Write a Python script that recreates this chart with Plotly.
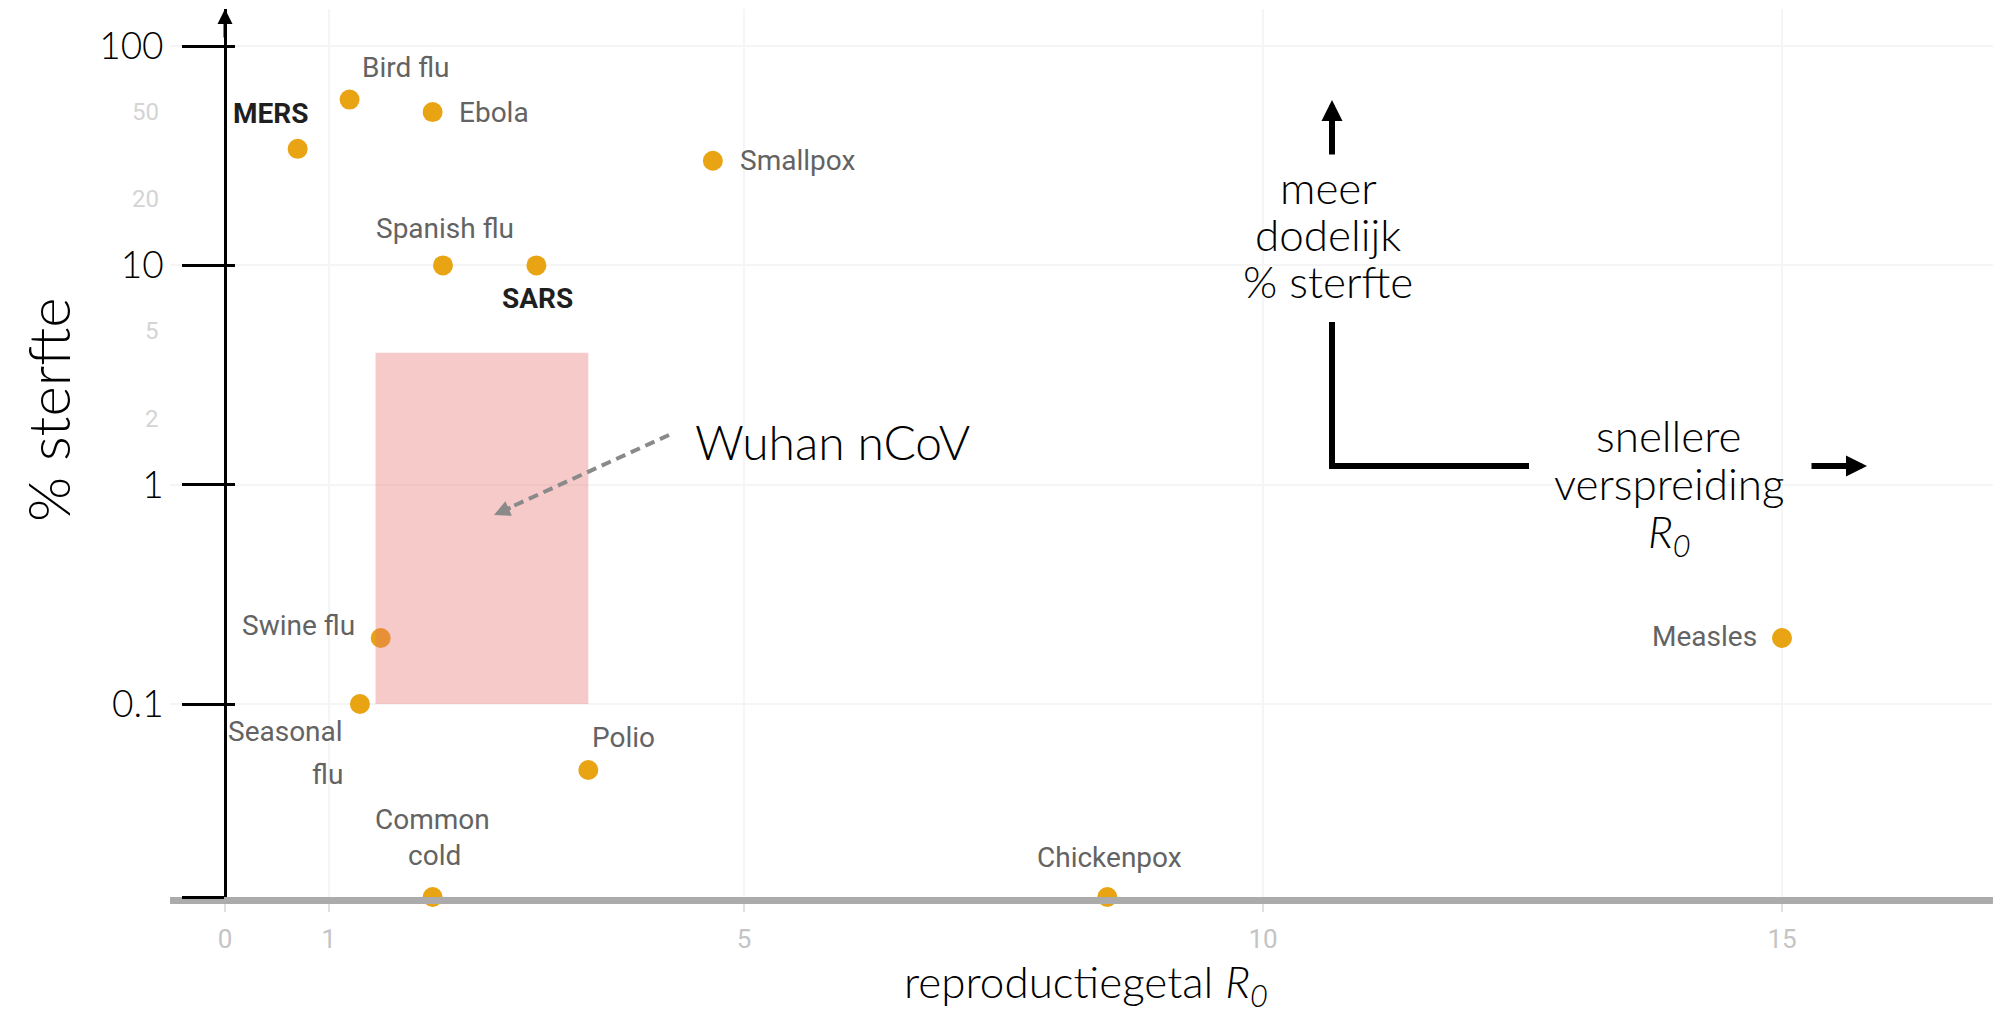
import math
import plotly.graph_objects as go

# ---------------- data ----------------
diseases = ["MERS", "Bird flu", "Ebola", "Smallpox", "Spanish flu", "SARS",
            "Swine flu", "Seasonal flu", "Polio", "Common cold", "Chickenpox", "Measles"]
r0 = [0.7, 1.2, 2.0, 4.7, 2.1, 3.0, 1.5, 1.3, 3.5, 2.0, 8.5, 15.0]
fatality = [34, 57, 50, 30, 10, 10, 0.2, 0.1, 0.05, 0, 0, 0.2]   # % sterfte (0 = ~nul)
bold_labels = ["MERS", "SARS"]

wuhan_r0 = [1.45, 3.5]
wuhan_fatality = [0.1, 4]

y_tick_vals = [100, 10, 1, 0.1]
y_tick_text = ["100", "10", "1", "0.1"]
y_faint_vals = [50, 20, 5, 2]
x_tick_vals = [0, 1, 5, 10, 15]

# ---------------- layout geometry ----------------
# the page body has an 8px margin; geometry below is in screen pixels
OFF = 8
W, H = 2001 - OFF, 1013 - OFF
ML, MR, MT = 170 - OFF, 0, 9 - OFF
PLOT_BOTTOM = 897 - OFF
MB = H - PLOT_BOTTOM
PW, PH = W - ML - MR, H - MT - MB
X_RANGE = [-0.53, 17.11]
Y_RANGE = [-1.880, 2.169]          # log10
FLOOR = 10 ** Y_RANGE[0]


def px(xs):
    return (xs - OFF - ML) / PW


def py(ys):
    return (PLOT_BOTTOM - (ys - OFF)) / PH


FONT_OVER = "Lato"
FONT_WAPO = "Roboto"
DOT = "#E8A413"

y_plot = [max(v, FLOOR) for v in fatality]

fig = go.Figure()
fig.add_trace(go.Scatter(
    x=r0, y=y_plot, mode="markers",
    marker=dict(size=20, color=DOT, line=dict(width=0)),
    cliponaxis=False, hoverinfo="text", text=diseases, showlegend=False))
# helper trace for the right-hand tick nubs
fig.add_trace(go.Scatter(x=[0], y=[1], yaxis="y2", mode="markers",
                         marker=dict(opacity=0), hoverinfo="skip", showlegend=False))

# ---------------- disease labels ----------------
label_lines = {
    "MERS": [("MERS", "center", -27, 35)],
    "Bird flu": [("Bird flu", "left", 10, 32)],
    "Ebola": [("Ebola", "left", 24, 0)],
    "Smallpox": [("Smallpox", "left", 25, 0)],
    "Spanish flu": [("Spanish flu", "center", 2, 37)],
    "SARS": [("SARS", "center", 1, -33)],
    "Swine flu": [("Swine flu", "right", -24, 12)],
    "Seasonal flu": [("Seasonal", "right", -15, -27), ("flu", "right", -15, -70)],
    "Polio": [("Polio", "center", 35, 33)],
    "Common cold": [("Common", "center", 0, 78), ("cold", "center", 2, 42)],
    "Chickenpox": [("Chickenpox", "center", 2, 40)],
    "Measles": [("Measles", "right", -23, 1)],
}
annotations = []
for name, xv, yv in zip(diseases, r0, y_plot):
    is_bold = name in bold_labels
    for txt, anchor, xs, ys in label_lines[name]:
        annotations.append(dict(
            x=xv, y=math.log10(yv), xref="x", yref="y", text=txt, showarrow=False,
            xanchor=anchor, yanchor="middle", xshift=xs, yshift=ys,
            font=dict(family=FONT_WAPO, size=28,
                      color="#1f1f1f" if is_bold else "#636363",
                      weight="bold" if is_bold else "normal")))

# faint original y labels
for v in y_faint_vals:
    annotations.append(dict(x=0, y=math.log10(v), xref="x", yref="y", text=str(v),
                            showarrow=False, xanchor="right", xshift=-64,
                            font=dict(family=FONT_WAPO, size=24, color="#d4d4d4")))

# y-axis arrow head
annotations.append(dict(x=0, y=1, xref="x", yref="paper", text="", showarrow=True,
                        ax=0, ay=30, arrowhead=2, arrowsize=1.0, arrowwidth=3,
                        arrowcolor="black"))

# Wuhan label + arrow head
annotations.append(dict(x=px(693), y=py(441), xref="paper", yref="paper",
                        text="Wuhan nCoV", showarrow=False, xanchor="left",
                        yanchor="middle",
                        font=dict(family=FONT_OVER, size=48, color="black", weight=300)))
annotations.append(dict(x=px(494), y=py(515), xref="paper", yref="paper", text="",
                        showarrow=True, ax=18, ay=-8, arrowhead=2, arrowsize=0.8,
                        arrowwidth=4, arrowcolor="#8a8a8a"))

# direction legend
for txt, yy in [("meer", 187), ("dodelijk", 234), ("% sterfte", 281)]:
    annotations.append(dict(x=px(1328), y=py(yy), xref="paper", yref="paper", text=txt,
                            showarrow=False, xanchor="center", yanchor="middle",
                            font=dict(family=FONT_OVER, size=44, color="black", weight=300)))
for txt, yy in [("snellere", 435), ("verspreiding", 483), ("<i>R<sub>0</sub></i>", 534)]:
    annotations.append(dict(x=px(1669), y=py(yy), xref="paper", yref="paper", text=txt,
                            showarrow=False, xanchor="center", yanchor="middle",
                            font=dict(family=FONT_OVER, size=44, color="black", weight=300)))
annotations.append(dict(x=px(1332), y=py(100), xref="paper", yref="paper", text="",
                        showarrow=True, ax=0, ay=56, arrowhead=2, arrowsize=0.7,
                        arrowwidth=6, arrowcolor="black"))
annotations.append(dict(x=px(1867), y=py(466), xref="paper", yref="paper", text="",
                        showarrow=True, ax=-57, ay=0, arrowhead=2, arrowsize=0.7,
                        arrowwidth=6, arrowcolor="black"))

# axis titles
annotations.append(dict(x=px(47), y=py(410), xref="paper", yref="paper", text="% sterfte",
                        showarrow=False, textangle=-90, xanchor="center", yanchor="middle",
                        font=dict(family=FONT_OVER, size=58, color="black", weight=300)))
annotations.append(dict(x=px(1086), y=py(984), xref="paper", yref="paper",
                        text="reproductiegetal <i>R<sub>0</sub></i>",
                        showarrow=False, xanchor="center", yanchor="middle",
                        font=dict(family=FONT_OVER, size=44, color="black", weight=300)))

shapes = [
    dict(type="rect", xref="x", yref="y", x0=wuhan_r0[0], x1=wuhan_r0[1],
         y0=wuhan_fatality[0], y1=wuhan_fatality[1],
         fillcolor="rgba(232,110,110,0.37)", line=dict(width=0), layer="above"),
    dict(type="line", xref="paper", yref="paper", x0=px(669), y0=py(435),
         x1=px(500), y1=py(512), line=dict(color="#8a8a8a", width=4, dash="10px,6px")),
    dict(type="path", xref="paper", yref="paper",
         path=f"M {px(1332)},{py(322)} L {px(1332)},{py(466)} L {px(1529)},{py(466)}",
         line=dict(color="black", width=6)),
]

ax_common = dict(type="log", range=Y_RANGE, anchor="free", position=(225 - OFF - ML) / PW,
                 tickvals=y_tick_vals + [FLOOR], zeroline=False)

fig.update_layout(
    width=W, height=H,
    margin=dict(l=ML, r=MR, t=MT, b=MB),
    paper_bgcolor="white", plot_bgcolor="white",
    showlegend=False,
    xaxis=dict(range=X_RANGE, domain=[0, 1], showline=True, linecolor="#ababab",
               linewidth=7, ticks="outside", ticklen=8, tickwidth=2, tickcolor="#e0e0e0",
               tickvals=x_tick_vals, ticktext=[str(v) for v in x_tick_vals],
               tickfont=dict(family=FONT_WAPO, size=26, color="#c4c4c4"),
               ticklabelstandoff=5,
               showgrid=True, gridcolor="#f5f5f5", gridwidth=2, zeroline=False),
    yaxis=dict(**ax_common, ticktext=y_tick_text + [""],
               showline=True, linecolor="black", linewidth=3,
               ticks="outside", ticklen=42, tickwidth=3, tickcolor="black",
               tickfont=dict(family=FONT_OVER, size=37, color="black", weight=300),
               ticklabelstandoff=11,
               showgrid=True, gridcolor="#f5f5f5", gridwidth=2),
    yaxis2=dict(**ax_common, overlaying="y", showline=False, ticks="inside", ticklen=9,
                tickwidth=3, tickcolor="black", showticklabels=False, showgrid=False),
    annotations=annotations,
    shapes=shapes,
)

fig.write_html("out.html", config={"displayModeBar": False})
